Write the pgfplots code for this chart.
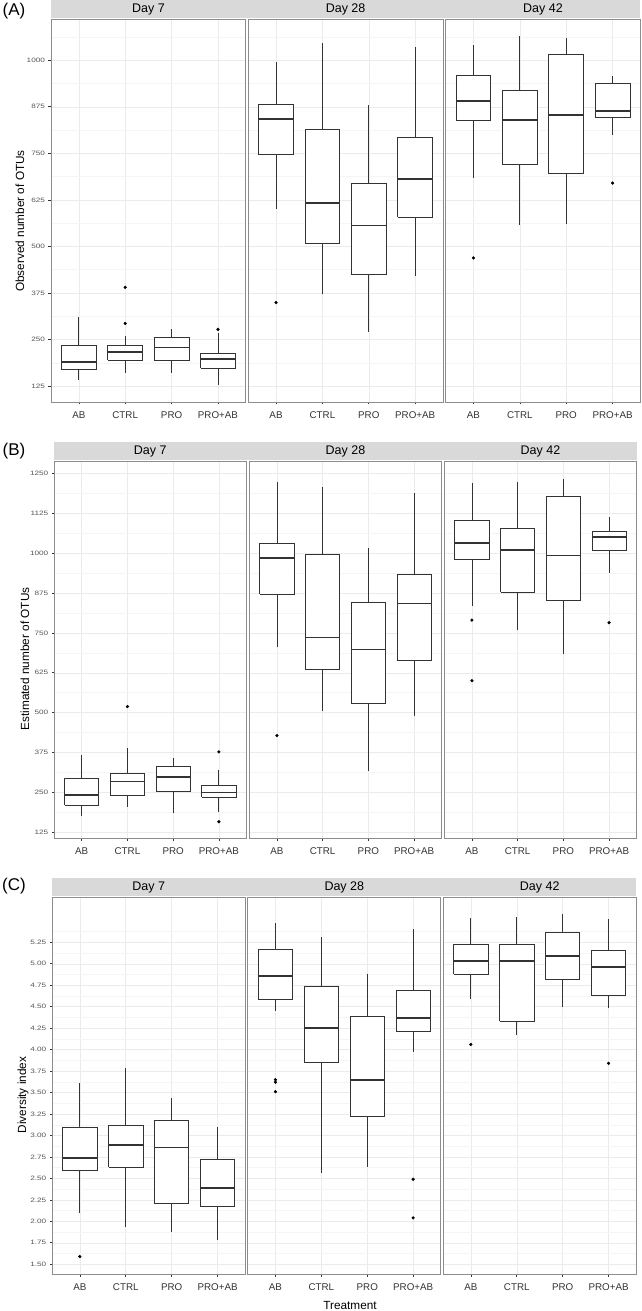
\documentclass[border=0pt]{standalone}
\usepackage{fontspec}
\setmainfont{Liberation Sans}
\newfontfamily\tickfont[FakeStretch=1.3]{Liberation Sans}
\usepackage{pgfplots}
\pgfplotsset{compat=1.18}
\definecolor{Frame}{HTML}{8C8C8C}
\definecolor{Ink}{HTML}{333333}
\definecolor{GridMaj}{HTML}{EBEBEB}
\definecolor{GridMin}{HTML}{F5F5F5}
\definecolor{Strip}{HTML}{D9D9D9}
\definecolor{TickTxt}{HTML}{555555}

\pgfplotsset{
  facet/.style={scale only axis,xmin=0.4,xmax=4.6,xtick={1,2,3,4},xticklabels={AB,CTRL,PRO,PRO+AB},
    axis line style={Frame,line width=0.9pt},xmajorgrids,ymajorgrids,yminorgrids,
    major grid style={GridMaj,line width=0.5pt},minor grid style={GridMin,line width=0.4pt},
    tick align=outside,major tick length=2.5pt,minor tick length=0pt,tick style={Ink,line width=0.6pt},
    xtick pos=left,ytick pos=left,
    xticklabel style={font=\fontsize{9.8}{10}\selectfont,text=Ink,yshift=-3.5pt},
    yticklabel style={font=\tickfont\fontsize{6.3}{7}\selectfont,text=TickTxt},
    /pgf/number format/assume math mode=true},
  inner/.style={yticklabels={},ytick style={draw=none}},
  rowA/.style={width=194.8pt,height=382.7pt,ymin=82,ymax=1110,ytick={125,250,375,500,625,750,875,1000},
    yticklabels={125,250,375,500,625,750,875,1000},minor ytick={187.5,312.5,437.5,562.5,687.5,812.5,937.5,1062.5}},
  rowB/.style={width=192pt,height=377pt,ymin=106,ymax=1288,ytick={125,250,375,500,625,750,875,1000,1125,1250},
    yticklabels={125,250,375,500,625,750,875,1000,1125,1250},minor ytick={187.5,312.5,437.5,562.5,687.5,812.5,937.5,1062.5,1187.5}},
  rowC/.style={width=192.8pt,height=377pt,ymin=1.383,ymax=5.774,ytick={1.5,1.75,2,2.25,2.5,2.75,3,3.25,3.5,3.75,4,4.25,4.5,4.75,5,5.25},
    yticklabels={1.50,1.75,2.00,2.25,2.50,2.75,3.00,3.25,3.50,3.75,4.00,4.25,4.50,4.75,5.00,5.25},
    minor ytick={1.625,1.875,2.125,2.375,2.625,2.875,3.125,3.375,3.625,3.875,4.125,4.375,4.625,4.875,5.125,5.375}},
  wsk/.style={Ink,line width=0.75pt},
  out/.style={only marks,mark=*,mark size=1.4pt,mark options={draw=black,fill=black}},
}
% box: left, centre, right, lower whisker, lower quartile, median, upper quartile, upper whisker
\newcommand{\gbox}[8]{%
  \addplot[wsk] coordinates {(#2,#4) (#2,#5)};
  \addplot[wsk] coordinates {(#2,#7) (#2,#8)};
  \addplot[wsk,fill=white] coordinates {(#1,#5) (#3,#5) (#3,#7) (#1,#7) (#1,#5)};
  \addplot[Ink,line width=1.7pt] coordinates {(#1,#6) (#3,#6)};
}
\newcommand{\strip}{\fontsize{12.5}{13}\selectfont}

\begin{document}
\begin{tikzpicture}
\useasboundingbox (0,0) rectangle (641pt,1311pt);

% ---------------- (A) observed OTUs
\fill[Strip] (51pt,1292.7pt) rectangle (640.4pt,1311pt);
\begin{axis}[facet,rowA,name=a1,at={(51pt,909pt)},anchor=south west]
\gbox{0.625}{1}{1.375}{141}{170}{189}{233}{310}
\gbox{1.625}{2}{2.375}{161}{194}{217}{233}{259}
\gbox{2.625}{3}{3.375}{161}{194}{228}{255}{277}
\gbox{3.625}{4}{4.375}{128}{172}{198}{213}{266}
\addplot[out] coordinates {(2,293) (2,390) (4,277)};
\end{axis}
\begin{axis}[facet,rowA,inner,name=a2,at={(248.2pt,909pt)},anchor=south west]
\gbox{0.625}{1}{1.375}{601}{746}{842}{881}{996}
\gbox{1.625}{2}{2.375}{371}{507}{617}{815}{1047}
\gbox{2.625}{3}{3.375}{269}{426}{556}{670}{879}
\gbox{3.625}{4}{4.375}{420}{579}{681}{793}{1035}
\addplot[out] coordinates {(1,349)};
\end{axis}
\begin{axis}[facet,rowA,inner,name=a3,at={(445.6pt,909pt)},anchor=south west]
\gbox{0.625}{1}{1.375}{684}{839}{891}{959}{1041}
\gbox{1.625}{2}{2.375}{557}{721}{840}{918}{1065}
\gbox{2.625}{3}{3.375}{559}{695}{853}{1016}{1059}
\gbox{3.625}{4}{4.375}{798}{847}{863}{937}{958}
\addplot[out] coordinates {(1,469) (4,670)};
\end{axis}
\node[font=\strip] at ([yshift=9.5pt]a1.north) {Day 7};
\node[font=\strip] at ([yshift=9.5pt]a2.north) {Day 28};
\node[font=\strip] at ([yshift=9.5pt]a3.north) {Day 42};
\node[font=\fontsize{17}{18}\selectfont] at (14pt,1300pt) {(A)};
\node[rotate=90,font=\fontsize{11.8}{12}\selectfont] at (20pt,1090pt) {Observed number of OTUs};

% ---------------- (B) estimated OTUs
\fill[Strip] (54.3pt,850.7pt) rectangle (636.5pt,868.7pt);
\begin{axis}[facet,rowB,name=b1,at={(54.3pt,472.7pt)},anchor=south west]
\gbox{0.625}{1}{1.375}{177}{209}{242}{295}{367}
\gbox{1.625}{2}{2.375}{205}{241}{284}{309}{390}
\gbox{2.625}{3}{3.375}{184}{254}{299}{331}{359}
\gbox{3.625}{4}{4.375}{187}{235}{250}{271}{321}
\addplot[out] coordinates {(2,519) (4,158) (4,377)};
\end{axis}
\begin{axis}[facet,rowB,inner,name=b2,at={(249.5pt,472.7pt)},anchor=south west]
\gbox{0.625}{1}{1.375}{705}{872}{985}{1031}{1224}
\gbox{1.625}{2}{2.375}{506}{635}{736}{997}{1208}
\gbox{2.625}{3}{3.375}{316}{528}{698}{845}{1015}
\gbox{3.625}{4}{4.375}{488}{664}{842}{932}{1190}
\addplot[out] coordinates {(1,428)};
\end{axis}
\begin{axis}[facet,rowB,inner,name=b3,at={(444.5pt,472.7pt)},anchor=south west]
\gbox{0.625}{1}{1.375}{834}{980}{1031}{1103}{1220}
\gbox{1.625}{2}{2.375}{758}{877}{1010}{1077}{1222}
\gbox{2.625}{3}{3.375}{685}{851}{993}{1177}{1234}
\gbox{3.625}{4}{4.375}{938}{1009}{1050}{1068}{1112}
\addplot[out] coordinates {(1,600) (1,790) (4,782)};
\end{axis}
\node[font=\strip] at ([yshift=9.5pt]b1.north) {Day 7};
\node[font=\strip] at ([yshift=9.5pt]b2.north) {Day 28};
\node[font=\strip] at ([yshift=9.5pt]b3.north) {Day 42};
\node[font=\fontsize{17}{18}\selectfont] at (14pt,860pt) {(B)};
\node[rotate=90,font=\fontsize{11.8}{12}\selectfont] at (25pt,652pt) {Estimated number of OTUs};

% ---------------- (C) diversity index
\fill[Strip] (52.3pt,414.7pt) rectangle (636.1pt,432.7pt);
\begin{axis}[facet,rowC,name=c1,at={(52.3pt,36.7pt)},anchor=south west]
\gbox{0.625}{1}{1.375}{2.10}{2.59}{2.74}{3.10}{3.61}
\gbox{1.625}{2}{2.375}{1.93}{2.63}{2.89}{3.12}{3.78}
\gbox{2.625}{3}{3.375}{1.88}{2.21}{2.86}{3.18}{3.44}
\gbox{3.625}{4}{4.375}{1.78}{2.17}{2.39}{2.72}{3.10}
\addplot[out] coordinates {(1,1.59)};
\end{axis}
\begin{axis}[facet,rowC,inner,name=c2,at={(247.9pt,36.7pt)},anchor=south west]
\gbox{0.625}{1}{1.375}{4.45}{4.58}{4.86}{5.17}{5.47}
\gbox{1.625}{2}{2.375}{2.56}{3.85}{4.25}{4.74}{5.31}
\gbox{2.625}{3}{3.375}{2.63}{3.22}{3.65}{4.39}{4.88}
\gbox{3.625}{4}{4.375}{3.97}{4.21}{4.37}{4.69}{5.40}
\addplot[out] coordinates {(1,3.51) (1,3.62) (1,3.65) (4,2.04) (4,2.49)};
\end{axis}
\begin{axis}[facet,rowC,inner,name=c3,at={(443.3pt,36.7pt)},anchor=south west]
\gbox{0.625}{1}{1.375}{4.59}{4.88}{5.03}{5.23}{5.53}
\gbox{1.625}{2}{2.375}{4.17}{4.33}{5.03}{5.23}{5.55}
\gbox{2.625}{3}{3.375}{4.50}{4.82}{5.09}{5.37}{5.58}
\gbox{3.625}{4}{4.375}{4.48}{4.63}{4.96}{5.15}{5.52}
\addplot[out] coordinates {(1,4.06) (4,3.84)};
\end{axis}
\node[font=\strip] at ([yshift=9.5pt]c1.north) {Day 7};
\node[font=\strip] at ([yshift=9.5pt]c2.north) {Day 28};
\node[font=\strip] at ([yshift=9.5pt]c3.north) {Day 42};
\node[font=\fontsize{17}{18}\selectfont] at (14pt,424.5pt) {(C)};
\node[rotate=90,font=\fontsize{11.8}{12}\selectfont] at (23pt,216pt) {Diversity index};
\node[font=\fontsize{11.8}{12}\selectfont] at (350pt,6pt) {Treatment};
\end{tikzpicture}
\end{document}
